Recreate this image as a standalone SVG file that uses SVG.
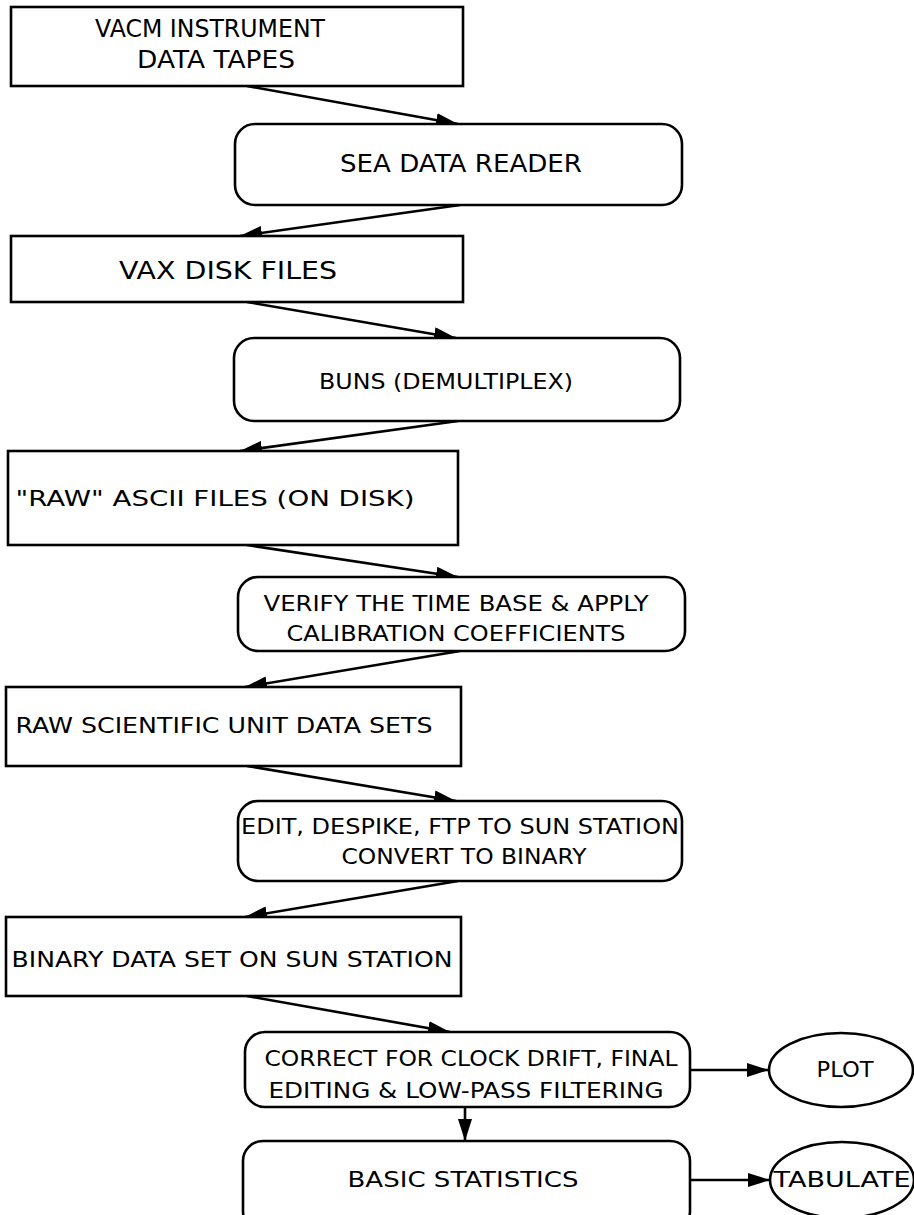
<svg xmlns="http://www.w3.org/2000/svg" width="914" height="1215" viewBox="0 0 914 1215">
<style>
.box{fill:#fff;stroke:#000;stroke-width:2.6}
.t{font-family:"DejaVu Sans","Liberation Sans",sans-serif;font-size:22px;fill:#000;text-anchor:middle}
.big{font-size:25px}
.c{fill:none;stroke:#000;stroke-width:2.6}
</style>
<defs>
<marker id="ah" viewBox="0 0 22 14" refX="22" refY="7" markerWidth="22" markerHeight="14" markerUnits="userSpaceOnUse" orient="auto">
<path d="M0,0 L22,7 L0,14 Z" fill="#000"/>
</marker>
</defs>
<rect width="914" height="1215" fill="#fff"/>
<g id="connectors">
<line class="c" x1="247" y1="86" x2="458" y2="124" marker-end="url(#ah)"/>
<line class="c" x1="460" y1="205" x2="240" y2="236" marker-end="url(#ah)"/>
<line class="c" x1="247" y1="302" x2="456" y2="338" marker-end="url(#ah)"/>
<line class="c" x1="458" y1="421" x2="240" y2="451" marker-end="url(#ah)"/>
<line class="c" x1="247" y1="545" x2="458" y2="577" marker-end="url(#ah)"/>
<line class="c" x1="460" y1="651" x2="245" y2="687" marker-end="url(#ah)"/>
<line class="c" x1="247" y1="766" x2="456" y2="801" marker-end="url(#ah)"/>
<line class="c" x1="458" y1="881" x2="245" y2="917" marker-end="url(#ah)"/>
<line class="c" x1="247" y1="996" x2="450" y2="1032" marker-end="url(#ah)"/>
<line class="c" x1="465" y1="1107" x2="465" y2="1141" marker-end="url(#ah)"/>
<line class="c" x1="690" y1="1070" x2="769" y2="1070" marker-end="url(#ah)"/>
<line class="c" x1="690" y1="1180" x2="770" y2="1180" marker-end="url(#ah)"/>
</g>
<g id="n1"><rect class="box" x="11" y="7" width="452" height="79"/>
<text class="t big" x="210" y="37" textLength="230" lengthAdjust="spacingAndGlyphs">VACM  INSTRUMENT</text>
<text class="t big" x="216" y="68" textLength="158" lengthAdjust="spacingAndGlyphs">DATA  TAPES</text></g>
<g id="n2"><rect class="box" x="235" y="124" width="447" height="81" rx="20"/>
<text class="t big" x="461" y="172" textLength="242" lengthAdjust="spacingAndGlyphs">SEA  DATA  READER</text></g>
<g id="n3"><rect class="box" x="11" y="236" width="452" height="66"/>
<text class="t big" x="228" y="279" textLength="218" lengthAdjust="spacingAndGlyphs">VAX  DISK  FILES</text></g>
<g id="n4"><rect class="box" x="234" y="338" width="446" height="83" rx="20"/>
<text class="t" x="446" y="389" textLength="254" lengthAdjust="spacingAndGlyphs">BUNS (DEMULTIPLEX)</text></g>
<g id="n5"><rect class="box" x="8" y="451" width="450" height="94"/>
<text class="t" x="215" y="506" textLength="399" lengthAdjust="spacingAndGlyphs">"RAW" ASCII FILES  (ON  DISK)</text></g>
<g id="n6"><rect class="box" x="238" y="577" width="447" height="74" rx="20"/>
<text class="t" x="456" y="611" textLength="385" lengthAdjust="spacingAndGlyphs">VERIFY THE TIME BASE &amp; APPLY</text>
<text class="t" x="456" y="641" textLength="339" lengthAdjust="spacingAndGlyphs">CALIBRATION COEFFICIENTS</text></g>
<g id="n7"><rect class="box" x="6" y="687" width="455" height="79"/>
<text class="t" x="224" y="733" textLength="417" lengthAdjust="spacingAndGlyphs">RAW SCIENTIFIC UNIT DATA SETS</text></g>
<g id="n8"><rect class="box" x="238" y="801" width="444" height="80" rx="20"/>
<text class="t" x="460" y="834" textLength="438" lengthAdjust="spacingAndGlyphs">EDIT, DESPIKE, FTP TO SUN STATION</text>
<text class="t" x="464" y="864" textLength="245" lengthAdjust="spacingAndGlyphs">CONVERT TO BINARY</text></g>
<g id="n9"><rect class="box" x="6" y="917" width="455" height="79"/>
<text class="t" x="232" y="967" textLength="441" lengthAdjust="spacingAndGlyphs">BINARY DATA SET ON SUN STATION</text></g>
<g id="n10"><rect class="box" x="245" y="1032" width="445" height="75" rx="20"/>
<text class="t" x="471" y="1066" textLength="413" lengthAdjust="spacingAndGlyphs">CORRECT FOR CLOCK DRIFT, FINAL</text>
<text class="t" x="466" y="1098" textLength="395" lengthAdjust="spacingAndGlyphs">EDITING &amp; LOW-PASS FILTERING</text></g>
<g id="n11"><rect class="box" x="243" y="1141" width="447" height="90" rx="20"/>
<text class="t" x="463" y="1187" textLength="231" lengthAdjust="spacingAndGlyphs">BASIC STATISTICS</text></g>
<g id="n12"><ellipse class="box" cx="841" cy="1070" rx="72" ry="37"/>
<text class="t" x="845" y="1077" textLength="57" lengthAdjust="spacingAndGlyphs">PLOT</text></g>
<g id="n13"><ellipse class="box" cx="842" cy="1180" rx="72" ry="38"/>
<text class="t" x="842" y="1187" textLength="137" lengthAdjust="spacingAndGlyphs">TABULATE</text></g>
</svg>
